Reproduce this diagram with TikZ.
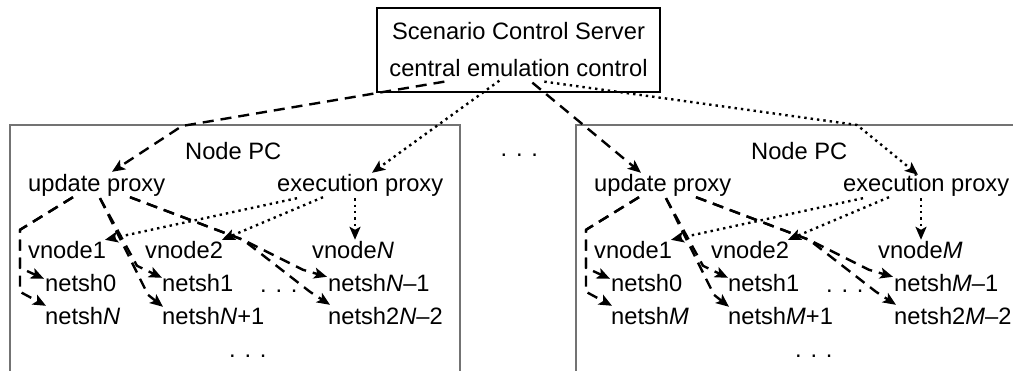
\documentclass[tikz,border=0pt]{standalone}
\usepackage{fontspec}
\setmainfont{Liberation Sans}
\usetikzlibrary{arrows.meta,calc}
\tikzset{
  lbl/.style={inner sep=0pt, anchor=base west, text height=17pt, text depth=5pt,
              font=\fontsize{23.7}{28}\selectfont},
  upd/.style={line width=2.4pt, dash pattern=on 11pt off 7pt, line join=round,
              -{Stealth[length=13pt,width=11pt,inset=3pt]}},
  exe/.style={line width=2.4pt, dash pattern=on 2.4pt off 4pt, line join=round,
              -{Stealth[length=13pt,width=11pt,inset=3pt]}},
  pcframe/.style={draw=black!55, line width=2pt},
  server/.style={draw, line width=1.3pt, minimum width=283pt, minimum height=84pt,
              inner sep=0pt, align=center, font=\fontsize{23.7}{37}\selectfont},
}
% One node PC with its proxies, vnodes and netsh instances.
% #1 name prefix, #2 variable letter, #3 horizontal offset
\newcommand\pcbox[3]{%
  \draw[pcframe] ({#3+10},385) -- ({#3+10},125) coordinate (#1box) -- ({#3+460},125) -- ({#3+460},385);
  \node[lbl] (#1pc) at ({#3+185},160) {Node PC};
  \node[lbl] (#1up) at ({#3+28},192) {update proxy};
  \node[lbl] (#1ex) at ({#3+277},192) {execution proxy};
  \node[lbl] (#1v1) at ({#3+28},259) {vnode1};
  \node[lbl] (#1v2) at ({#3+145},259) {vnode2};
  \node[lbl] (#1vn) at ({#3+312},259) {vnode\textit{#2}};
  \node[lbl] (#1n0) at ({#3+45},292) {netsh0};
  \node[lbl] (#1n1) at ({#3+162},292) {netsh1};
  \node[lbl] (#1na) at ({#3+328},292) {netsh\textit{#2}–1};
  \node[lbl] (#1nn) at ({#3+45},325) {netsh\textit{#2}};
  \node[lbl] (#1nb) at ({#3+162},325) {netsh\textit{#2}+1};
  \node[lbl] (#1nc) at ({#3+328},325) {netsh2\textit{#2}–2};
  \node[lbl] (#1da) at ({#3+260},293) {. . .};
  \node[lbl] (#1db) at ({#3+229},358) {. . .};
  % update proxy: one connection per netsh instance
  \draw[upd] ($(#1up.south west)+(45,0)$) -- ($(#1v1.north west)+(-8,-12)$)
     -- ($(#1n0.north west)+(-25,-7)$) -- ($(#1n0.north west)+(-1,4)$);
  \draw[upd] ($(#1up.south west)+(45,0)$) -- ($(#1v1.north west)+(-8,-12)$)
     -- ($(#1nn.north west)+(-25,-16)$) -- ($(#1nn.north west)+(1,-2)$);
  \draw[upd] ($(#1up.south west)+(72,1)$) -- ($(#1n1.north west)+(-25,-9)$)
     -- ($(#1n1.north west)+(0,3)$);
  \draw[upd] ($(#1up.south west)+(72,1)$) -- ($(#1nb.north west)+(-14,-13)$)
     -- ($(#1nb.north west)+(1,-1)$);
  \draw[upd] ($(#1up.south west)+(102,0)$) -- ($(#1v2.north west)+(98,-2)$)
     -- ($(#1na.north west)+(-25,-5)$) -- ($(#1na.north west)+(-1,2)$);
  \draw[upd] ($(#1up.south west)+(102,0)$) -- ($(#1v2.north west)+(98,-2)$)
     -- ($(#1nc.north west)+(-18,-16)$) -- ($(#1nc.north west)+(2,-3)$);
  % execution proxy: one connection per vnode
  \draw[exe] ($(#1ex.south west)+(20,1)$) -- ($(#1v1.north west)+(77,-2)$);
  \draw[exe] ($(#1ex.south west)+(46,0)$) -- ($(#1v2.north west)+(77,-2)$);
  \draw[exe] ($(#1ex.south west)+(78,1)$) -- ($(#1vn.north west)+(43,-2)$);
}
\begin{document}
\begin{tikzpicture}[x=1pt,y=-1pt]
  \useasboundingbox (0,0) rectangle (1013,371);
  \fill[white] (0,0) rectangle (1013,371);
  \clip (0,0) rectangle (1013,371);

  \node[server] (srv) at (518.5,50) {Scenario Control Server\\central emulation control};

  \pcbox{L}{N}{0}
  \pcbox{R}{M}{566}

  \node[lbl] (gap) at (500.5,157) {. . .};

  % central control to the proxies of each node PC
  \draw[upd] ($(srv.south west)+(68,-11)$) -- ($(Lbox)+(172,1)$) -- ($(Lup.north west)+(84,-3)$);
  \draw[exe] ($(srv.south west)+(123,-12)$) -- ($(Lex.north west)+(95,-2)$);
  \draw[upd] ($(srv.south west)+(156,-10)$) -- ($(Rup.north west)+(47,-2)$);
  \draw[exe] ($(srv.south west)+(168,-11)$) -- ($(Rbox)+(281,0)$) -- ($(Rex.north west)+(75,0)$);
\end{tikzpicture}
\end{document}
